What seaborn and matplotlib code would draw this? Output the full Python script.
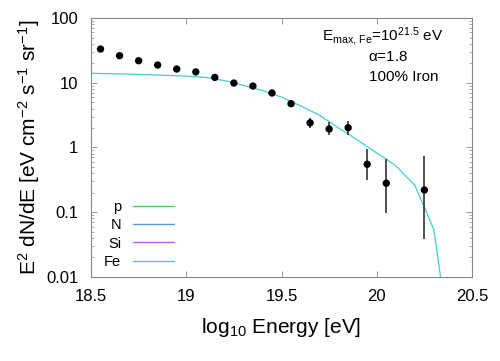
import numpy as np
import pandas as pd
import matplotlib
matplotlib.use("Agg")
import matplotlib.pyplot as plt
import matplotlib.ticker as mticker
from matplotlib.lines import Line2D
import seaborn as sns

# measured spectrum (log10 E, E^2 dN/dE) with error bars
data_x = [18.55, 18.65, 18.75, 18.85, 18.95, 19.05, 19.15, 19.25, 19.35, 19.45,
          19.55, 19.65, 19.75, 19.85, 19.95, 20.05, 20.25]
data_y = [33.2, 26.2, 21.9, 18.8, 16.3, 14.7, 12.1, 9.9, 8.9, 6.95,
          4.75, 2.4, 1.93, 2.02, 0.55, 0.28, 0.22]
err_lo = [33.2, 26.2, 21.9, 18.8, 16.3, 14.7, 12.1, 9.9, 8.9, 6.95,
          4.5, 2.0, 1.54, 1.58, 0.31, 0.098, 0.038]
err_hi = [33.2, 26.2, 21.9, 18.8, 16.3, 14.7, 12.1, 9.9, 8.9, 6.95,
          5.0, 2.83, 2.45, 2.57, 0.94, 0.66, 0.74]

# model curve, 100% iron
fe_x = [18.5, 18.6, 18.7, 18.8, 18.9, 19.0, 19.1, 19.2, 19.3, 19.4, 19.5,
        19.6, 19.7, 19.8, 19.9, 20.0, 20.05, 20.1, 20.2, 20.25, 20.3, 20.335]
fe_y = [14.0, 13.8, 13.6, 13.3, 13.0, 12.7, 12.1, 10.8, 9.1, 7.6, 6.0,
        4.4, 3.15, 2.0, 1.3, 0.82, 0.66, 0.52, 0.26, 0.12, 0.053, 0.01]

legend_labels = ["p", "N", "Si", "Fe"]
legend_colors = ["#55cc55", "#5599ee", "#cc55ee", "#40d0d0"]

sns.set_style("ticks")
plt.rcParams["font.family"] = ["Liberation Sans", "DejaVu Sans"]
plt.rcParams["mathtext.fontset"] = "custom"
plt.rcParams["mathtext.rm"] = "Liberation Sans"
plt.rcParams["mathtext.it"] = "Liberation Sans"
plt.rcParams["text.color"] = "black"
plt.rcParams["axes.labelcolor"] = "black"

fig = plt.figure(figsize=(5, 3.61), dpi=100)
ax = fig.add_axes([0.182, 0.233, 0.762, 0.717])

df_fe = pd.DataFrame({"x": fe_x, "y": fe_y})
sns.lineplot(data=df_fe, x="x", y="y", ax=ax, color=legend_colors[3], lw=0.9)

dy = np.array(data_y)
yerr = np.vstack([dy - np.array(err_lo), np.array(err_hi) - dy])
ax.errorbar(data_x, data_y, yerr=yerr, fmt="none", ecolor="#333333",
            elinewidth=1.2, capsize=0)
df_pts = pd.DataFrame({"x": data_x, "y": data_y})
sns.scatterplot(data=df_pts, x="x", y="y", ax=ax, color="black", s=28,
                edgecolor="none", zorder=3)

ax.set_yscale("log")
ax.set_xlim(18.5, 20.5)
ax.set_ylim(0.01, 100)
ax.set_xticks([18.5, 19, 19.5, 20, 20.5])
ax.xaxis.set_major_formatter(mticker.FuncFormatter(lambda v, p: "%g" % v))
ax.yaxis.set_major_formatter(mticker.FuncFormatter(lambda v, p: "%g" % v))
ax.tick_params(which="both", direction="in", top=True, right=True,
               color="#888888", labelcolor="black", labelsize=12)
ax.tick_params(which="major", length=4, width=0.6)
ax.tick_params(which="minor", length=2, width=0.5)
ax.tick_params(axis="x", pad=8.5)
ax.tick_params(axis="y", pad=9)
for s in ax.spines.values():
    s.set_color("#888888")
    s.set_linewidth(0.8)

ax.set_xlabel(r"log$_{10}$ Energy [eV]", fontsize=15, labelpad=9)
ax.set_ylabel(r"E$^2$ dN/dE [eV cm$^{-2}$ s$^{-1}$ sr$^{-1}$]", fontsize=15,
              labelpad=3)

ax.text(20.033, 0.927, r"E$_{\rm max,\,Fe}$=10$^{21.5}$ eV", transform=ax.get_xaxis_transform(),
        ha="center", va="center", fontsize=11)
ax.text(20.059, 0.849, r"$\alpha$=1.8", transform=ax.get_xaxis_transform(),
        ha="center", va="center", fontsize=11)
ax.text(20.143, 0.772, "100% Iron", transform=ax.get_xaxis_transform(),
        ha="center", va="center", fontsize=11)

handles = [Line2D([], [], color=c, lw=1.0) for c in legend_colors]
ax.legend(handles, legend_labels, loc="lower left", bbox_to_anchor=(0.0, -0.02),
          frameon=False, markerfirst=False, fontsize=10.5, handlelength=2.8,
          handletextpad=0.8, labelspacing=0.3, borderaxespad=0.5)

fig.savefig("out.png", dpi=100)
